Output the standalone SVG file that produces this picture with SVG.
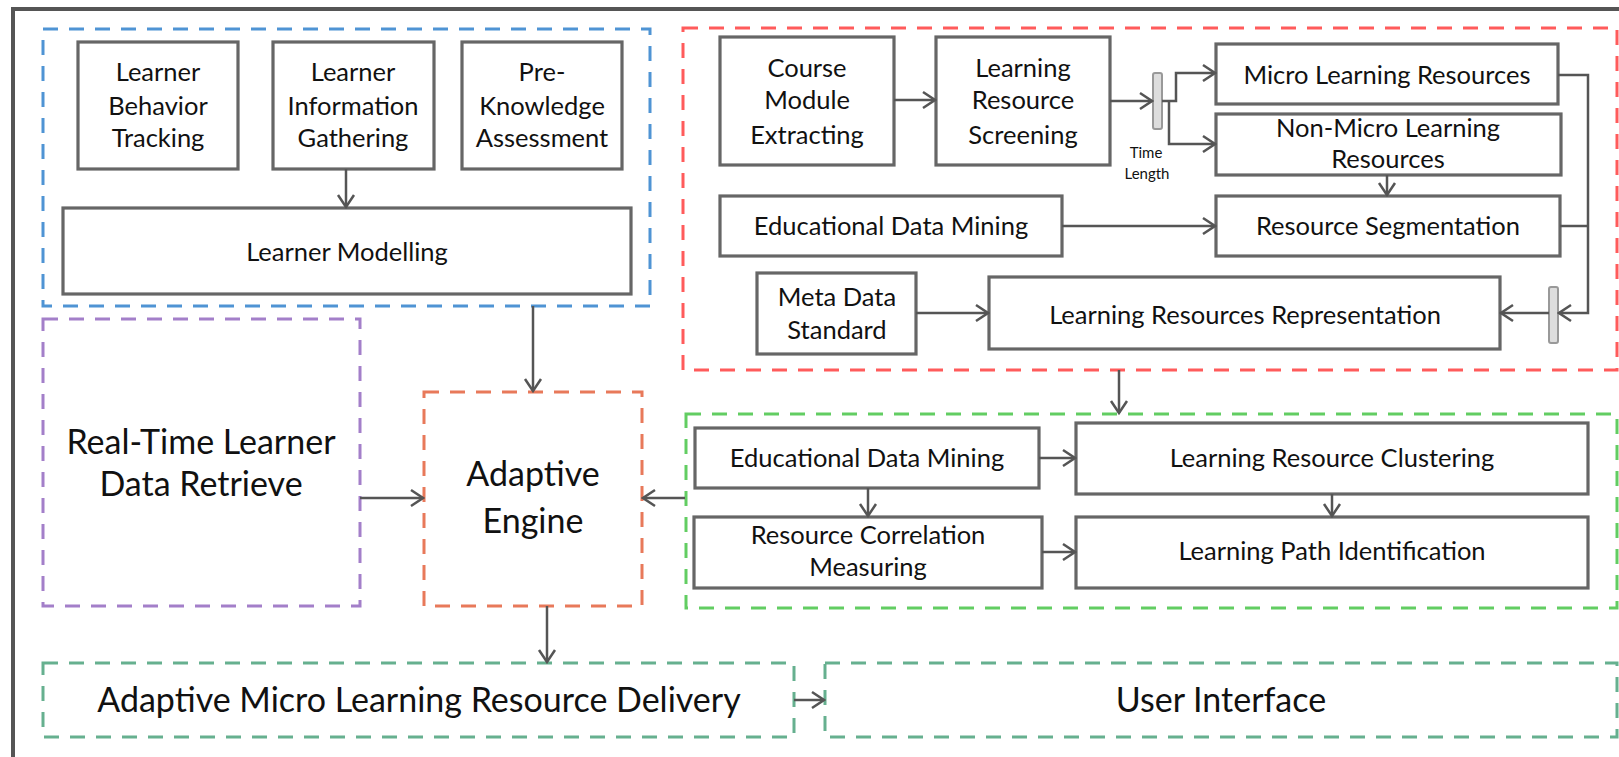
<svg xmlns="http://www.w3.org/2000/svg" width="1619" height="757" viewBox="0 0 1619 757">
<defs>
<marker id="ah" markerUnits="userSpaceOnUse" markerWidth="16" markerHeight="20" viewBox="0 0 16 20" refX="14" refY="10" orient="auto">
<path d="M2,2 L14,10 L2,18" fill="none" stroke="#555" stroke-width="2.5"/>
</marker>
<style>
.n{fill:#fff;stroke:#666;stroke-width:3.2}
.t{font-family:Lato,"Liberation Sans",sans-serif;font-size:25.5px;fill:#111;text-anchor:middle}
.b{font-family:Lato,"Liberation Sans",sans-serif;font-size:34px;fill:#111;text-anchor:middle}
.s{font-family:Lato,"Liberation Sans",sans-serif;font-size:15px;fill:#111;text-anchor:middle}
.g{fill:none;stroke-width:3;stroke-dasharray:15 11}
.c{fill:none;stroke:#555;stroke-width:2.5;marker-end:url(#ah)}
.l{fill:none;stroke:#555;stroke-width:2.5}
.bar{fill:#ddd;stroke:#999;stroke-width:2}
</style>
</defs>
<rect width="1619" height="757" fill="#fff"/>
<path d="M13,760 V9 H1625" fill="none" stroke="#555" stroke-width="4"/>

<g id="group-learner">
<rect class="g" x="43" y="29" width="607" height="277" stroke="#4f94d4"/>
</g>
<g id="lbt"><rect class="n" x="78" y="42" width="160" height="127"/>
<text class="t" x="158" y="81">Learner</text><text class="t" x="158" y="115">Behavior</text><text class="t" x="158" y="147">Tracking</text></g>
<g id="lig"><rect class="n" x="273" y="42" width="161" height="127"/>
<text class="t" x="353" y="81">Learner</text><text class="t" x="353" y="115">Information</text><text class="t" x="353" y="147">Gathering</text></g>
<g id="pka"><rect class="n" x="462" y="42" width="160" height="127"/>
<text class="t" x="542" y="81">Pre-</text><text class="t" x="542" y="115">Knowledge</text><text class="t" x="542" y="147">Assessment</text></g>
<g id="lm"><rect class="n" x="63" y="208" width="568" height="86"/>
<text class="t" x="347" y="261">Learner Modelling</text></g>

<g id="group-resource">
<rect class="g" x="683" y="28" width="934" height="342" stroke="#ff5b5b"/>
</g>
<g id="cme"><rect class="n" x="720" y="37" width="174" height="128"/>
<text class="t" x="807" y="77">Course</text><text class="t" x="807" y="109">Module</text><text class="t" x="807" y="144">Extracting</text></g>
<g id="lrs"><rect class="n" x="936" y="37" width="174" height="128"/>
<text class="t" x="1023" y="77">Learning</text><text class="t" x="1023" y="109">Resource</text><text class="t" x="1023" y="144">Screening</text></g>
<g id="mlr"><rect class="n" x="1216" y="44" width="342" height="60"/>
<text class="t" x="1387" y="84">Micro Learning Resources</text></g>
<g id="nmlr"><rect class="n" x="1216" y="114" width="345" height="61"/>
<text class="t" x="1388" y="137">Non-Micro Learning</text><text class="t" x="1388" y="168">Resources</text></g>
<g id="edm1"><rect class="n" x="720" y="196" width="342" height="60"/>
<text class="t" x="891" y="235">Educational Data Mining</text></g>
<g id="rs"><rect class="n" x="1216" y="196" width="344" height="60"/>
<text class="t" x="1388" y="235">Resource Segmentation</text></g>
<g id="mds"><rect class="n" x="757" y="273" width="159" height="81"/>
<text class="t" x="837" y="306">Meta Data</text><text class="t" x="837" y="339">Standard</text></g>
<g id="lrr"><rect class="n" x="989" y="277" width="511" height="72"/>
<text class="t" x="1245" y="324">Learning Resources Representation</text></g>
<g id="timelength">
<rect class="bar" x="1153" y="73" width="9" height="56" rx="2"/>
<rect class="bar" x="1549" y="287" width="9" height="56" rx="2"/>
<text class="s" x="1146" y="158">Time</text><text class="s" x="1147" y="179">Length</text>
</g>

<g id="group-path">
<rect class="g" x="686" y="414" width="931" height="194" stroke="#62cd62"/>
</g>
<g id="edm2"><rect class="n" x="695" y="428" width="344" height="60"/>
<text class="t" x="867" y="467">Educational Data Mining</text></g>
<g id="lrc"><rect class="n" x="1076" y="423" width="512" height="71"/>
<text class="t" x="1332" y="467">Learning Resource Clustering</text></g>
<g id="rcm"><rect class="n" x="694" y="517" width="348" height="71"/>
<text class="t" x="868" y="544">Resource Correlation</text><text class="t" x="868" y="576">Measuring</text></g>
<g id="lpi"><rect class="n" x="1076" y="517" width="512" height="71"/>
<text class="t" x="1332" y="560">Learning Path Identification</text></g>

<g id="rtl"><rect class="g" x="43" y="319" width="317" height="287" stroke="#a37fc9"/>
<text class="b" x="201" y="454">Real-Time Learner</text><text class="b" x="201" y="496">Data Retrieve</text></g>
<g id="ae"><rect class="g" x="424" y="392" width="218" height="214" stroke="#e8795a"/>
<text class="b" x="533" y="486">Adaptive</text><text class="b" x="533" y="533">Engine</text></g>
<g id="amlrd"><rect class="g" x="43" y="663" width="751" height="74" stroke="#66b08f"/>
<text class="b" x="419" y="712">Adaptive Micro Learning Resource Delivery</text></g>
<g id="ui"><rect class="g" x="825" y="663" width="792" height="74" stroke="#66b08f"/>
<text class="b" x="1221" y="712">User Interface</text></g>

<g id="connectors">
<path class="c" d="M346,169 V207"/>
<path class="c" d="M894,100 H935"/>
<path class="c" d="M1110,101 H1152"/>
<path class="c" d="M1162,101 H1176 V73 H1215"/>
<path class="c" d="M1169,101 V144 H1215"/>
<path class="c" d="M1387,175 V195"/>
<path class="c" d="M1062,226 H1215"/>
<path class="c" d="M1558,75 H1588 V313 H1559"/>
<path class="l" d="M1560,226 H1588"/>
<path class="c" d="M1549,313 H1501"/>
<path class="c" d="M916,313 H988"/>
<path class="c" d="M1119,370 V413"/>
<path class="c" d="M1039,458 H1075"/>
<path class="c" d="M868,488 V516"/>
<path class="c" d="M1332,494 V516"/>
<path class="c" d="M1042,552 H1075"/>
<path class="c" d="M685,498 H643"/>
<path class="c" d="M533,306 V391"/>
<path class="c" d="M360,498 H423"/>
<path class="c" d="M547,606 V662"/>
<path class="c" d="M794,700 H824"/>
</g>
</svg>
